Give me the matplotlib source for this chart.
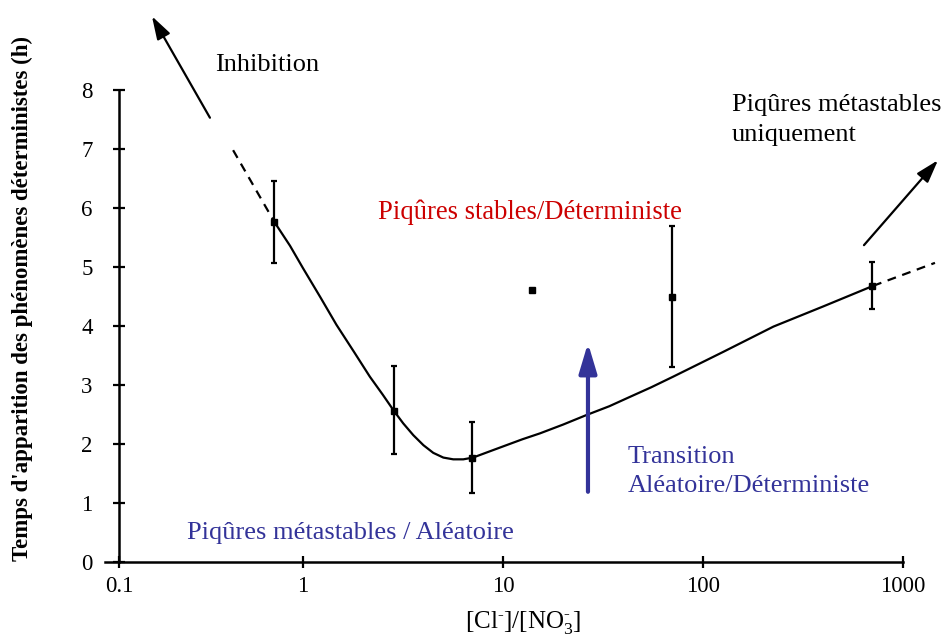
import numpy as np
import matplotlib
matplotlib.use("Agg")
import matplotlib.pyplot as plt

plt.rcParams['font.family'] = ['Liberation Serif', 'DejaVu Serif']
plt.rcParams['mathtext.fontset'] = 'custom'
plt.rcParams['mathtext.rm'] = 'Liberation Serif'
plt.rcParams['mathtext.it'] = 'Liberation Serif:italic'

# points de mesure [Cl-]/[NO3-] -> temps (h)
ratio = [0.7, 2.85, 7.0, 14.0, 70.0, 700.0]
temps = [5.76, 2.56, 1.77, 4.61, 4.50, 4.68]
err_bas = [0.70, 0.73, 0.60, 0.0, 1.20, 0.40]
err_haut = [0.69, 0.76, 0.60, 0.0, 1.19, 0.41]

# courbe tracée à la main
courbe_x = [0.7, 0.85, 1.0, 1.22, 1.47, 1.8, 2.16, 2.5, 2.85, 3.17, 3.56,
            4.0, 4.48, 5.03, 5.64, 6.33, 7.08, 8.5, 10.4, 12.5, 15.3, 20.0,
            26.1, 34.0, 43.2, 55.0, 70.8, 126, 225, 398, 708]
courbe_y = [5.76, 5.36, 4.98, 4.49, 4.02, 3.56, 3.14, 2.84, 2.56, 2.35, 2.15,
            1.98, 1.85, 1.77, 1.74, 1.74, 1.77, 1.87, 1.98, 2.08, 2.18, 2.33,
            2.49, 2.64, 2.80, 2.96, 3.14, 3.56, 3.99, 4.33, 4.68]

# prolongements en pointillés
gauche_x = [0.417, 0.7]
gauche_y = [6.98, 5.76]
droite_x = [708, 1445]
droite_y = [4.68, 5.07]

xticks = [0.1, 1, 10, 100, 1000]
xticklabels = ['0.1', '1', '10', '100', '1000']
yticks = [0, 1, 2, 3, 4, 5, 6, 7, 8]

ROUGE = '#cc0000'
BLEU = '#333399'


# la première décade est un peu plus courte sur la figure d'origine
def fwd(x):
    l = np.log10(np.maximum(x, 1e-12))
    return np.where(l < 0, l * 0.92, l)


def inv(u):
    u = np.asarray(u, dtype=float)
    return np.where(u < 0, 10 ** (u / 0.92), 10 ** u)


fig = plt.figure(figsize=(9.43, 6.36), dpi=100)
ax = fig.add_axes([105 / 943, 74 / 636, 798 / 943, 472 / 636])
ax.set_xscale('function', functions=(fwd, inv))
ax.set_xlim(inv(-0.99), 1000)
ax.set_ylim(0, 8)

ax.plot(courbe_x, courbe_y, color='black', lw=1.6, solid_joinstyle='round')
ax.plot(gauche_x, gauche_y, color='black', lw=1.6, dashes=(4, 3), clip_on=False)
ax.plot(droite_x, droite_y, color='black', lw=1.6, dashes=(4, 3), clip_on=False)

ax.errorbar(ratio, temps, yerr=[err_bas, err_haut], fmt='s', color='black',
            ms=4.5, elinewidth=1.6, capsize=2.3, capthick=1.6, zorder=5)

ax.spines['top'].set_visible(False)
ax.spines['right'].set_visible(False)
ax.spines['left'].set_position(('data', 0.1))
ax.spines['left'].set_bounds(0, 8)
ax.spines['left'].set_linewidth(1.8)
ax.spines['bottom'].set_linewidth(1.8)

ax.set_xticks(xticks, labels=xticklabels)
ax.xaxis.set_minor_locator(matplotlib.ticker.NullLocator())
ax.set_yticks(yticks)
ax.tick_params(axis='both', direction='inout', length=8, width=1.6,
               labelsize=16.5)
ax.tick_params(axis='x', pad=6)
ax.tick_params(axis='y', pad=15)

ax.set_xlabel('[Cl$^{‐}$]/[NO$_{3}^{‐}$]', fontsize=18)
ax.xaxis.set_label_coords((523 - 105) / 798, -47 / 472)
fig.text(22 / 943, 0.53, "Temps d'apparition des phénomènes déterministes (h)",
         rotation=90, fontsize=16.5, fontweight='bold', ha='center', va='center')

# textes
ax.text(0.332, 8.42, 'Inhibition', fontsize=19, va='center', ha='left')
ax.text(139.6, 7.49, 'Piqûres métastables\nuniquement', fontsize=19,
        va='center', ha='left', linespacing=1.45)
ax.text(2.37, 5.92, 'Piqûres stables/Déterministe', fontsize=19.2,
        color=ROUGE, va='center', ha='left')
ax.text(42.2, 1.54, 'Transition\nAléatoire/Déterministe', fontsize=19,
        color=BLEU, va='center', ha='left', linespacing=1.4)
ax.text(0.234, 0.49, 'Piqûres métastables / Aléatoire', fontsize=19,
        color=BLEU, va='center', ha='left')

# flèches
fleche_noire = dict(arrowstyle='-|>,head_length=0.7,head_width=0.22',
                    color='black', lw=1.6, mutation_scale=20,
                    shrinkA=0, shrinkB=0)
ax.annotate('', xy=(0.151, 9.25), xytext=(0.312, 7.53),
            arrowprops=fleche_noire, annotation_clip=False)
ax.annotate('', xy=(1496, 6.81), xytext=(638, 5.37),
            arrowprops=fleche_noire, annotation_clip=False)
ax.annotate('', xy=(26.6, 3.71), xytext=(26.6, 1.19),
            arrowprops=dict(arrowstyle='-|>,head_length=1.0,head_width=0.3',
                            color=BLEU, lw=3, mutation_scale=18,
                            shrinkA=0, shrinkB=0),
            annotation_clip=False)

fig.savefig('out.png', dpi=100)
